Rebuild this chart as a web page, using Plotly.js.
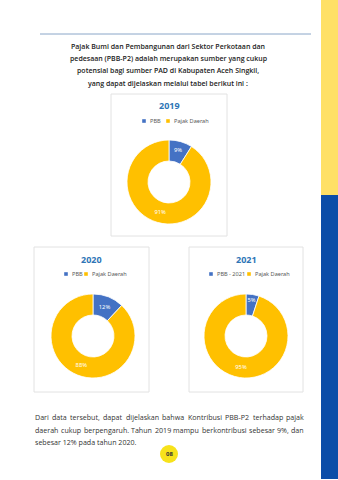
<!DOCTYPE html>
<html><head><meta charset="utf-8">
<script src="https://cdn.plot.ly/plotly-3.0.1.min.js"></script>
<style>html,body{margin:0;padding:0;background:#fff}#c{width:338px;height:480px}</style>
</head><body><div id="c"></div>
<script>
const years = ['2019','2020','2021'];
const labels2019 = ['PBB','Pajak Daerah'];
const labels2020 = ['PBB','Pajak Daerah'];
const labels2021 = ['PBB - 2021','Pajak Daerah'];
const values2019 = [9,91];
const values2020 = [12,88];
const values2021 = [5,95];
const introLines = [
 'Pajak Bumi dan Pembangunan dari Sektor Perkotaan dan',
 'pedesaan (PBB-P2) adalah merupakan sumber yang cukup',
 'potensial bagi sumber PAD di Kabupaten Aceh Singkil,',
 'yang dapat dijelaskan melalui tabel berikut ini :'
];
const bodyLines = [
 'Dari data tersebut, dapat dijelaskan bahwa Kontribusi PBB-P2 terhadap pajak',
 'daerah cukup berpengaruh. Tahun 2019 mampu berkontribusi sebesar 9%, dan',
 'sebesar 12% pada tahun 2020.'
];
const pageNo = '08';

const W=338,H=480;
const colors=['#4472C4','#FFC000'];
function dom(x0,x1,y0,y1){return {x:[x0/W,x1/W], y:[1-y1/H,1-y0/H]};}

const charts=[
 {year:years[0],labels:labels2019,values:values2019,box:[111,227,94,236],donut:[127,211,140,224],ty:105,ly:121,lx:[144,168]},
 {year:years[1],labels:labels2020,values:values2020,box:[34,149,247,392],donut:[51,135,294,378],ty:259,ly:274,lx:[66,86]},
 {year:years[2],labels:labels2021,values:values2021,box:[189,303,247,392],donut:[204,288,294,378],ty:259,ly:274,lx:[211,249]}
];

const data=[], shapes=[], ann=[];
shapes.push({type:'rect',xref:'x',yref:'y',x0:321,x1:338,y0:0,y1:195,fillcolor:'#FFE066',line:{width:0},layer:'below'});
shapes.push({type:'rect',xref:'x',yref:'y',x0:321,x1:338,y0:195,y1:479,fillcolor:'#0B4DA8',line:{width:0},layer:'below'});
shapes.push({type:'line',xref:'x',yref:'y',x0:40,x1:311,y0:34,y1:34,line:{color:'#8AA6C8',width:1}});
introLines.forEach((t,i)=>ann.push({xref:'x',yref:'y',x:168,y:46+i*12.4,text:t,showarrow:false,xanchor:'center',yanchor:'middle',font:{family:'Open Sans',size:7.0,color:'#222',weight:600}}));

charts.forEach(c=>{
 const [bx0,bx1,by0,by1]=c.box;
 shapes.push({type:'rect',xref:'x',yref:'y',x0:bx0,x1:bx1,y0:by0,y1:by1,fillcolor:'#fff',line:{color:'#E2E2E2',width:1},layer:'below'});
 ann.push({xref:'x',yref:'y',x:(bx0+bx1)/2,y:c.ty,text:'<b>'+c.year+'</b>',showarrow:false,xanchor:'center',yanchor:'middle',font:{family:'Noto Sans',size:9,color:'#2E75B6'}});
 c.labels.forEach((l,i)=>{
   const x=c.lx[i];
   shapes.push({type:'rect',xref:'x',yref:'y',x0:x-1.8,x1:x+1.8,y0:c.ly-1.8,y1:c.ly+1.8,fillcolor:colors[i],line:{width:0}});
   ann.push({xref:'x',yref:'y',x:x+3.5,y:c.ly,text:l,showarrow:false,xanchor:'left',yanchor:'middle',font:{family:'Noto Sans',size:5.6,color:'#595959'}});
 });
 const [dx0,dx1,dy0,dy1]=c.donut;
 data.push({type:'pie',labels:c.labels,values:c.values,hole:0.5,sort:false,direction:'clockwise',rotation:0,
   domain:dom(dx0,dx1,dy0,dy1),marker:{colors:colors,line:{color:'#fff',width:0.8}},
   texttemplate:'%{value}%',textposition:'inside',insidetextorientation:'horizontal',
   textfont:{family:'Noto Sans',size:5.8,color:'#fff'},showlegend:false,hoverinfo:'none'});
});

const bodyFont={family:'Open Sans',size:7.1,color:'#333'};
const cv=document.createElement('canvas').getContext('2d');
cv.font=bodyFont.size+'px "Open Sans"';
const left=34,right=303;
bodyLines.forEach((t,i)=>{
  const y=417+i*12.5;
  const words=t.split(' ');
  if(i===bodyLines.length-1){
    ann.push({xref:'x',yref:'y',x:left,y:y,text:t,showarrow:false,xanchor:'left',yanchor:'middle',font:bodyFont,borderpad:0});
    return;
  }
  const widths=words.map(w=>cv.measureText(w).width);
  const total=widths.reduce((a,b)=>a+b,0);
  const gap=(right-left-total)/(words.length-1);
  let x=left;
  words.forEach((w,k)=>{
    ann.push({xref:'x',yref:'y',x:x,y:y,text:w,showarrow:false,xanchor:'left',yanchor:'middle',font:bodyFont,borderpad:0});
    x+=widths[k]+gap;
  });
});
shapes.push({type:'circle',xref:'x',yref:'y',x0:160,x1:178,y0:445,y1:463,fillcolor:'#F7E21B',line:{width:0}});
ann.push({xref:'x',yref:'y',x:169,y:454,text:'<b>'+pageNo+'</b>',showarrow:false,xanchor:'center',yanchor:'middle',font:{family:'Open Sans',size:6,color:'#333'}});

Plotly.newPlot('c',data,{
 width:W,height:H,margin:{l:0,r:0,t:0,b:0},paper_bgcolor:'#fff',plot_bgcolor:'rgba(0,0,0,0)',
 xaxis:{range:[0,W],visible:false,fixedrange:true},
 yaxis:{range:[H,0],visible:false,fixedrange:true},
 shapes:shapes,annotations:ann,showlegend:false
},{staticPlot:true});
</script></body></html>
